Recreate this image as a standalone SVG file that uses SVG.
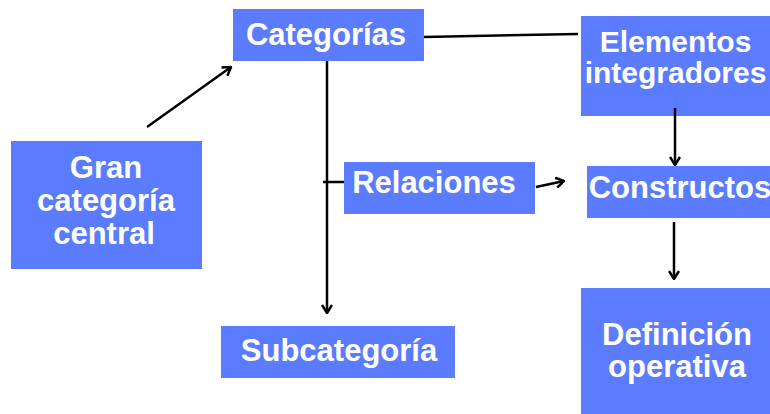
<svg xmlns="http://www.w3.org/2000/svg" width="770" height="414" viewBox="0 0 770 414">
<defs>
<style>
.box{fill:#5b7cfe;}
.t{fill:#ffffff;font-family:"Liberation Sans",Arial,sans-serif;font-weight:bold;font-size:31px;text-anchor:middle;}
.s{font-size:30px;}
.ln{stroke:#000;stroke-width:2.5;fill:none;}
</style>
<marker id="ah" viewBox="0 0 12 12" refX="11" refY="6" markerWidth="12" markerHeight="12" markerUnits="userSpaceOnUse" orient="auto">
<path d="M3,1 L11,6 L3,11" fill="none" stroke="#000" stroke-width="2.5"/>
</marker>
</defs>
<rect width="770" height="414" fill="#fff"/>
<g id="connectors">
<line class="ln" x1="147" y1="127" x2="231" y2="67" marker-end="url(#ah)"/>
<line class="ln" x1="424" y1="37" x2="578" y2="34"/>
<line class="ln" x1="327" y1="61" x2="327" y2="313" marker-end="url(#ah)"/>
<line class="ln" x1="323" y1="182" x2="344" y2="182"/>
<line class="ln" x1="536" y1="187" x2="564" y2="181" marker-end="url(#ah)"/>
<line class="ln" x1="675" y1="108" x2="675" y2="165" marker-end="url(#ah)"/>
<line class="ln" x1="674" y1="222" x2="674" y2="279" marker-end="url(#ah)"/>
</g>
<g id="gran">
<rect class="box" x="11" y="141" width="191" height="128"/>
<text class="t" x="106" y="178">Gran</text>
<text class="t" x="106" y="211">categoría</text>
<text class="t" x="104" y="244">central</text>
</g>
<g id="categorias">
<rect class="box" x="233" y="9" width="191" height="52"/>
<text class="t" x="326" y="45">Categorías</text>
</g>
<g id="elementos">
<rect class="box" x="581" y="16" width="189" height="100"/>
<text class="t s" x="675.5" y="52">Elementos</text>
<text class="t s" x="675.5" y="83">integradores</text>
</g>
<line class="ln" x1="675" y1="108" x2="675" y2="116"/>
<g id="relaciones">
<rect class="box" x="344" y="162" width="191" height="52"/>
<text class="t" x="434" y="193">Relaciones</text>
</g>
<g id="constructos">
<rect class="box" x="587" y="166" width="183" height="52"/>
<text class="t" x="680" y="198">Constructos</text>
</g>
<g id="subcategoria">
<rect class="box" x="221" y="326" width="234" height="52"/>
<text class="t" x="339" y="361">Subcategoría</text>
</g>
<g id="definicion">
<rect class="box" x="581" y="288" width="189" height="126"/>
<text class="t" x="677" y="345">Definición</text>
<text class="t" x="677" y="377">operativa</text>
</g>
</svg>
